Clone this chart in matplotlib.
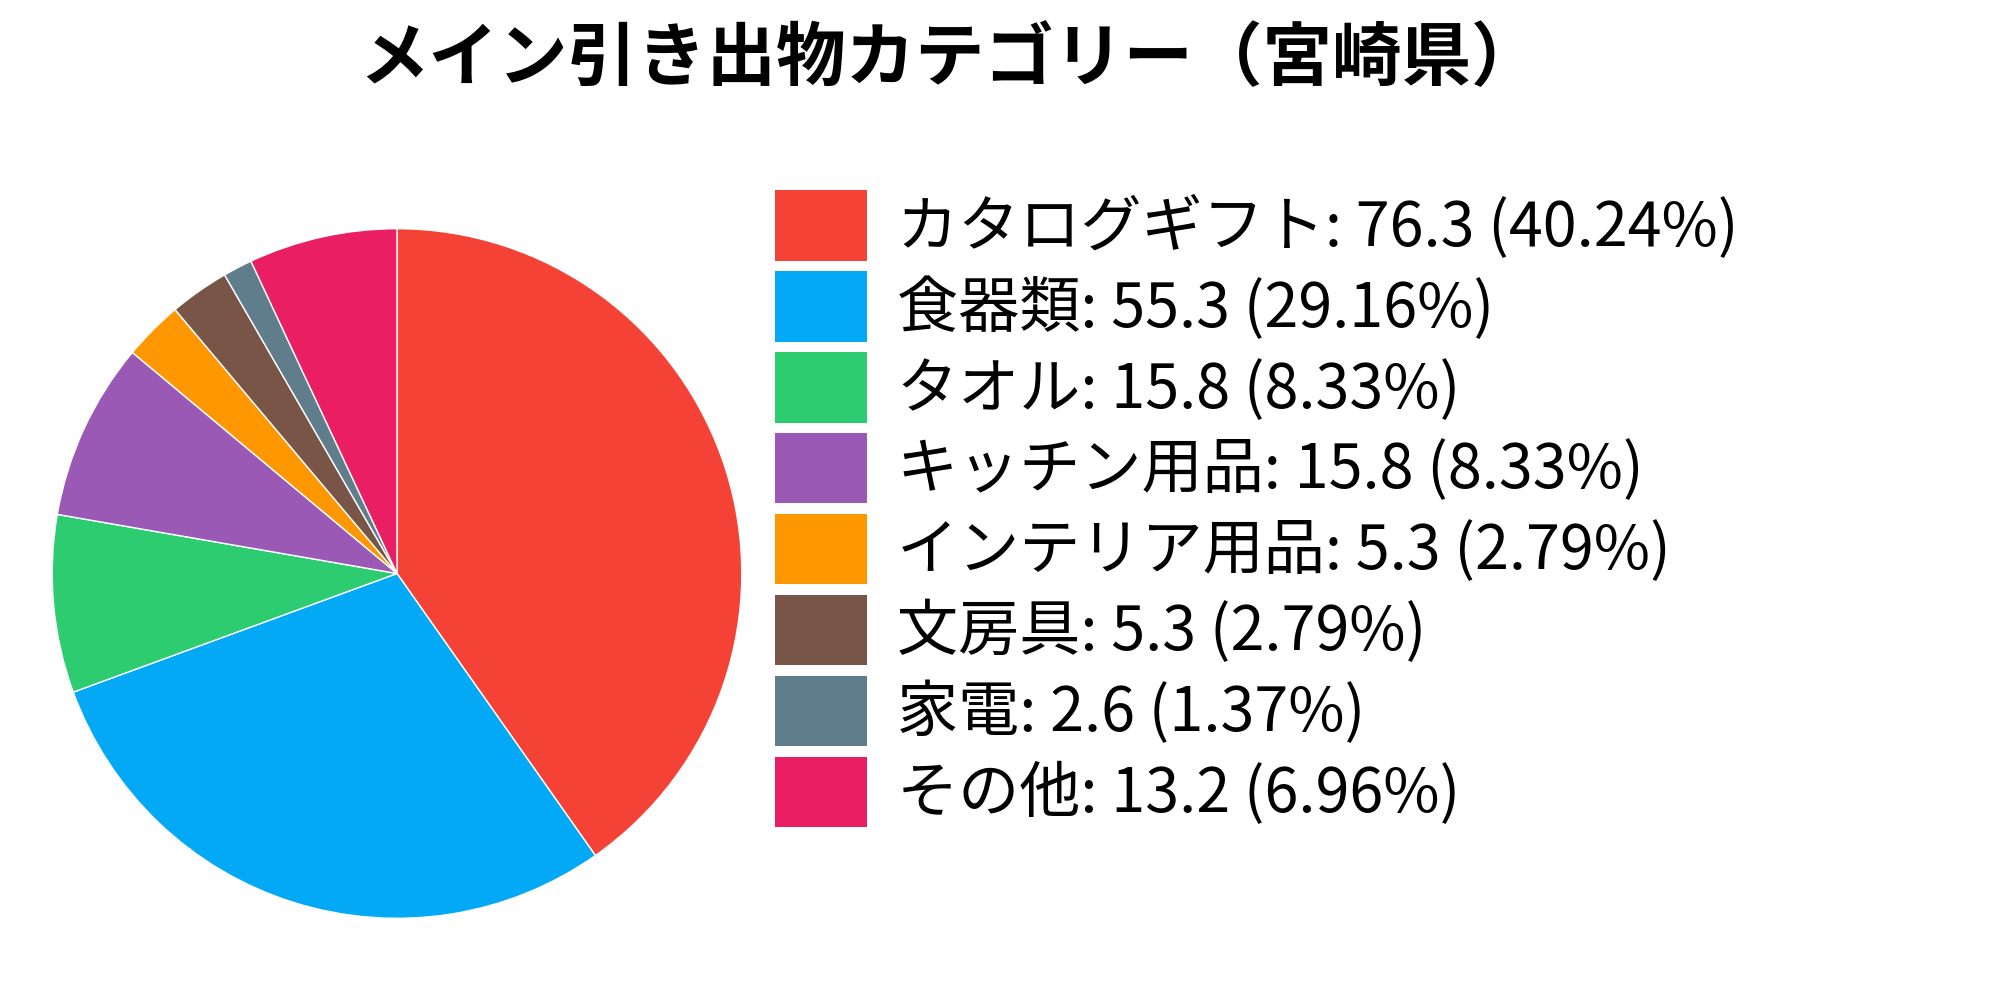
import matplotlib.pyplot as plt
from matplotlib.patches import Patch

plt.rcParams['font.family'] = 'Noto Sans CJK JP'

categories = ['カタログギフト', '食器類', 'タオル', 'キッチン用品', 'インテリア用品', '文房具', '家電', 'その他']
values = [76.3, 55.3, 15.8, 15.8, 5.3, 5.3, 2.6, 13.2]
percents = ['40.24', '29.16', '8.33', '8.33', '2.79', '2.79', '1.37', '6.96']
colors = ['#f44336', '#03a9f4', '#2ecc71', '#9b59b6', '#ff9800', '#795548', '#607d8b', '#e91e63']

fig = plt.figure(figsize=(20, 10), dpi=100)
ax = fig.add_axes([-0.017, -0.005, 0.431, 0.863])
ax.pie(values, colors=colors, startangle=90, counterclock=False,
       wedgeprops={'edgecolor': 'white', 'linewidth': 1})
ax.set_aspect('equal')

fig.suptitle('メイン引き出物カテゴリー（宮崎県）', fontsize=50, fontweight='bold', x=0.475, y=0.975)

labels = [f'{c}: {v} ({p}%)' for c, v, p in zip(categories, values, percents)]
handles = [Patch(facecolor=c) for c in colors]
fig.legend(handles, labels, loc='upper left', bbox_to_anchor=(0.36, 0.865),
           fontsize=44, frameon=False, handlelength=1.5, handleheight=1.4,
           labelspacing=0.17, handletextpad=0.5)

fig.savefig('out.png')
